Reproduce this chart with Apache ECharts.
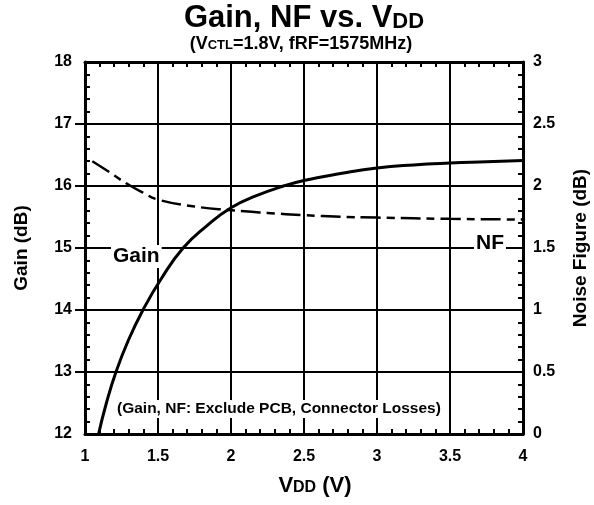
<!DOCTYPE html>
<html>
<head>
<meta charset="utf-8">
<script src="https://cdn.jsdelivr.net/npm/echarts@6/dist/echarts.min.js"></script>
<style>html,body{margin:0;padding:0;background:#fff;}#c{width:594px;height:505px;}</style>
</head>
<body>
<div id="c"></div>
<script>
// ---- data ----
var gainVdd = [1.093, 1.1465, 1.212, 1.295, 1.397, 1.521, 1.672, 1.83, 2.0, 2.17, 2.36, 2.5, 2.75, 3.0, 3.25, 3.5, 3.75, 4.0];
var gainDb  = [12.0, 12.5, 13.0, 13.5, 14.0, 14.5, 15.0, 15.35, 15.65, 15.84, 16.0, 16.09, 16.2, 16.29, 16.34, 16.37, 16.39, 16.41];
var nfVdd = [1.05, 1.15, 1.285, 1.4, 1.5, 1.75, 2.0, 2.25, 2.5, 2.75, 3.0, 3.5, 4.0];
var nfDb  = [2.2, 2.125, 2.02, 1.945, 1.89, 1.835, 1.805, 1.783, 1.765, 1.752, 1.745, 1.735, 1.73];
var xTicks = {min: 1, max: 4, interval: 0.5};
var gainTicks = {min: 12, max: 18, interval: 1};
var nfTicks = {min: 0, max: 3, interval: 0.5};
var gainOuterTicks = [13, 14, 15, 16, 17];

var FONT = '"Liberation Sans", Arial, Helvetica, sans-serif';
var chart = echarts.init(document.getElementById('c'), null, {renderer: 'canvas'});

function pairs(xs, ys) { return xs.map(function (x, i) { return [x, ys[i]]; }); }

var labelStyle = {color: '#000', fontFamily: FONT, fontWeight: 'bold', fontSize: 16};
var axisLine = {show: true, lineStyle: {color: '#000', width: 3}};
var tickIn = {show: true, inside: true, length: 5, lineStyle: {color: '#000', width: 2}};
var minorIn = {show: true, splitNumber: 5, length: 5, lineStyle: {color: '#000', width: 2}};
var split = {show: true, lineStyle: {color: '#000', width: 2}};

var option = {
  animation: false,
  backgroundColor: '#fff',
  grid: {left: 85, right: 71, top: 62, bottom: 71, containLabel: false, outerBoundsMode: 'none'},
  xAxis: [
    {type: 'value', position: 'bottom', min: xTicks.min, max: xTicks.max, interval: xTicks.interval,
     axisLine: axisLine, axisTick: tickIn, minorTick: minorIn, splitLine: split,
     axisLabel: Object.assign({margin: 15}, labelStyle),
     name: '{a|V}{b|DD}{a| (V)}', nameLocation: 'middle', nameGap: 41,
     nameTextStyle: {padding: [0, 0, 0, 22],
       rich: {a: {fontFamily: FONT, fontWeight: 'bold', fontSize: 22, color: '#000', verticalAlign: 'bottom'},
              b: {fontFamily: FONT, fontWeight: 'bold', fontSize: 16, color: '#000', verticalAlign: 'bottom', padding: [0, 0, 1, 0]}}}},
    {type: 'value', position: 'top', min: xTicks.min, max: xTicks.max, interval: xTicks.interval,
     axisLine: axisLine, axisTick: tickIn, minorTick: minorIn, splitLine: {show: false},
     axisLabel: {show: false}}
  ],
  yAxis: [
    {type: 'value', position: 'left', min: gainTicks.min, max: gainTicks.max, interval: gainTicks.interval,
     axisLine: axisLine, axisTick: tickIn, minorTick: minorIn, splitLine: split,
     axisLabel: Object.assign({margin: 13}, labelStyle),
     name: 'Gain (dB)', nameLocation: 'middle', nameGap: 54, nameRotate: 90,
     nameTextStyle: {fontFamily: FONT, fontWeight: 'bold', fontSize: 19, color: '#000'}},
    {type: 'value', position: 'right', min: nfTicks.min, max: nfTicks.max, interval: nfTicks.interval,
     axisLine: axisLine, axisTick: tickIn, minorTick: minorIn, splitLine: {show: false},
     axisLabel: Object.assign({margin: 10}, labelStyle),
     name: 'Noise Figure (dB)', nameLocation: 'middle', nameGap: 48, nameRotate: 90,
     nameTextStyle: {fontFamily: FONT, fontWeight: 'bold', fontSize: 19, color: '#000'}},
    {type: 'value', position: 'left', offset: 0, min: gainTicks.min, max: gainTicks.max, interval: gainTicks.interval,
     axisLine: {show: false}, splitLine: {show: false}, axisLabel: {show: false},
     axisTick: {show: true, inside: false, length: 10, customValues: gainOuterTicks, lineStyle: {color: '#000', width: 2}}}
  ],
  series: [
    {name: 'Gain', type: 'line', xAxisIndex: 0, yAxisIndex: 0, data: pairs(gainVdd, gainDb),
     smooth: 0.5, showSymbol: false, symbol: 'none', lineStyle: {color: '#000', width: 3}, z: 5},
    {name: 'NF', type: 'line', xAxisIndex: 0, yAxisIndex: 1, data: pairs(nfVdd, nfDb),
     smooth: 0.5, showSymbol: false, symbol: 'none', lineStyle: {color: '#000', width: 2.5, type: [20, 6, 8, 6]}, z: 5}
  ],
  graphic: [
    {type: 'text', x: 304, y: 3, z: 10, style: {text: '{a|Gain, NF vs. V}{b|DD}', textAlign: 'center', textVerticalAlign: 'top',
      rich: {a: {font: 'bold 31px ' + FONT, fill: '#000', verticalAlign: 'bottom'}, b: {font: 'bold 22px ' + FONT, fill: '#000', verticalAlign: 'bottom', padding: [0, 0, 1, 0]}}}},
    {type: 'text', x: 301, y: 35, z: 10, style: {text: '{a|(V}{b|CTL}{a|=1.8V, fRF=1575MHz)}', textAlign: 'center', textVerticalAlign: 'top',
      rich: {a: {font: 'bold 18px ' + FONT, fill: '#000', verticalAlign: 'bottom'}, b: {font: 'bold 13px ' + FONT, fill: '#000', verticalAlign: 'bottom', padding: [0, 0, 1, 0]}}}},
    {type: 'text', x: 111, y: 245, z: 10, style: {text: 'Gain', font: 'bold 21px ' + FONT, fill: '#000', backgroundColor: '#fff', padding: [1, 2, 1, 2]}},
    {type: 'text', x: 474, y: 232, z: 10, style: {text: 'NF', font: 'bold 21px ' + FONT, fill: '#000', backgroundColor: '#fff', padding: [1, 2, 1, 2]}},
    {type: 'text', x: 115, y: 400, z: 10, style: {text: '(Gain, NF: Exclude PCB, Connector Losses)', font: 'bold 15.5px ' + FONT, fill: '#000', backgroundColor: '#fff', padding: [1, 2, 1, 2]}}
  ]
};
chart.setOption(option);
</script>
</body>
</html>
